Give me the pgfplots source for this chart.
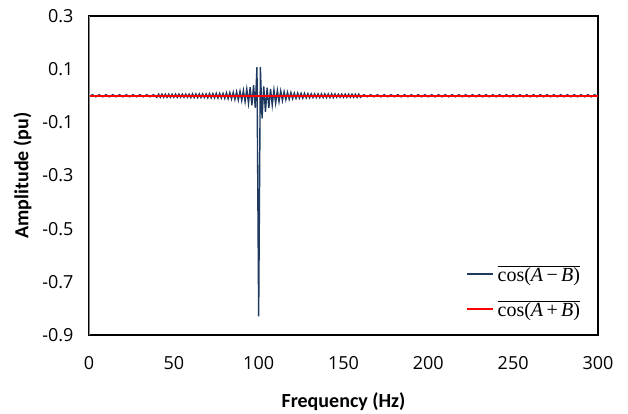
\documentclass[border=0pt]{standalone}
\usepackage{fontspec}
\setmainfont{Carlito}
\newfontfamily\tickfont{Open Sans}
\newfontfamily\legfont{Liberation Serif}
\usepackage{pgfplots}
\pgfplotsset{compat=1.18}

\definecolor{darkblue}{HTML}{1F3A60}
\definecolor{axisgray}{HTML}{868686}

% legend text: overlined cos(A -/+ B) in a Times-like face
\newcommand{\legtxt}[1]{$\overline{\mbox{\legfont cos(\textit{A}\,#1\,\textit{B})}}$}

\begin{document}
\begin{tikzpicture}
\begin{axis}[
    scale only axis,
    width=509pt, height=319pt,
    xmin=0, xmax=300, ymin=-0.9, ymax=0.3,
    xtick={0,50,100,150,200,250,300},
    ytick={-0.9,-0.7,-0.5,-0.3,-0.1,0.1,0.3},
    major tick length=0pt,
    axis line style={black, line width=1.2pt},
    tick label style={font=\fontsize{18}{20}\selectfont\tickfont},
    /pgf/number format/assume math mode=true,
    yticklabel style={/pgf/number format/fixed, /pgf/number format/fixed zerofill, /pgf/number format/precision=1, xshift=-12pt},
    xticklabel style={/pgf/number format/fixed, yshift=-18pt},
    xlabel={Frequency (Hz)},
    ylabel={Amplitude (pu)},
    label style={font=\fontsize{20}{22}\selectfont\bfseries},
    xlabel style={yshift=-16pt},
    ylabel style={yshift=4pt},
    legend style={draw=none, fill=none, at={(0.975,0.04)}, anchor=south east,
        font=\fontsize{20}{22}\selectfont\legfont, row sep=14pt, column sep=2pt},
    legend cell align=left,
    legend image code/.code={\draw[mark repeat=2,mark phase=2,#1] plot coordinates {(0pt,0pt) (13pt,0pt) (26pt,0pt)};},
]

% oscillating response around 100 Hz
\addplot[darkblue, line width=1.4pt] coordinates {
(0,-0.004)(2,0.004)(4,-0.004)(6,0.004)(8,-0.004)(10,0.004)(12,-0.004)(14,0.004)(16,-0.004)(18,0.004)
(20,-0.004)(22,0.004)(24,-0.004)(26,0.004)(28,-0.004)(30,0.004)(32,-0.004)(34,0.004)(36,-0.004)(38,0.004)
(40,-0.006)(41,0.006)(42,-0.006)(43,0.006)(44,-0.006)(45,0.006)(46,-0.006)(47,0.006)(48,-0.006)(49,0.006)
(50,-0.006)(51,0.006)(52,-0.006)(53,0.006)(54,-0.006)(55,0.006)(56,-0.006)(57,0.006)(58,-0.006)(59,0.006)
(60,-0.007)(61,0.007)(62,-0.007)(63,0.007)(64,-0.007)(65,0.007)(66,-0.007)(67,0.007)(68,-0.007)(69,0.007)
(70,-0.008)(71,0.008)(72,-0.008)(73,0.008)(74,-0.008)(75,0.009)(76,-0.009)(77,0.009)(78,-0.009)(79,0.009)
(80,-0.010)(81,0.011)(82,-0.011)(83,0.012)(84,-0.012)(85,0.013)(86,-0.014)(87,0.015)(88,-0.016)(89,0.017)
(90,-0.018)(91,0.020)(92,-0.022)(93,0.025)(94,-0.028)(95,0.032)(96,-0.036)(97,0.040)(98,-0.045)
(99,0.108)(100,-0.830)(101,0.108)
(102,-0.085)(103,0.035)(104,-0.060)(105,0.030)(106,-0.045)(107,0.026)(108,-0.035)(109,0.022)(110,-0.028)
(111,0.020)(112,-0.022)(113,0.018)(114,-0.018)(115,0.015)(116,-0.015)(117,0.013)(118,-0.013)(119,0.012)
(120,-0.011)(121,0.010)(122,-0.010)(123,0.010)(124,-0.009)(125,0.009)(126,-0.009)(127,0.009)(128,-0.008)
(129,0.008)(130,-0.008)(131,0.007)(132,-0.007)(133,0.007)(134,-0.007)(135,0.007)(136,-0.007)(137,0.007)
(138,-0.007)(139,0.007)(140,-0.007)(141,0.007)(142,-0.007)(143,0.007)(144,-0.007)(145,0.007)(146,-0.006)
(147,0.006)(148,-0.006)(149,0.006)(150,-0.006)(151,0.006)(152,-0.006)(153,0.006)(154,-0.006)(155,0.006)
(156,-0.006)(157,0.006)(158,-0.006)(159,0.006)(160,-0.006)
(162,0.004)(164,-0.004)(166,0.004)(168,-0.004)(170,0.004)(172,-0.004)(174,0.004)(176,-0.004)(178,0.004)
(180,-0.004)(182,0.004)(184,-0.004)(186,0.004)(188,-0.004)(190,0.004)(192,-0.004)(194,0.004)(196,-0.004)
(198,0.004)(200,-0.004)(202,0.004)(204,-0.004)(206,0.004)(208,-0.004)(210,0.004)(212,-0.004)(214,0.004)
(216,-0.004)(218,0.004)(220,-0.004)(222,0.004)(224,-0.004)(226,0.004)(228,-0.004)(230,0.004)(232,-0.004)
(234,0.004)(236,-0.004)(238,0.004)(240,-0.004)(242,0.004)(244,-0.004)(246,0.004)(248,-0.004)(250,0.004)
(252,-0.004)(254,0.004)(256,-0.004)(258,0.004)(260,-0.004)(262,0.004)(264,-0.004)(266,0.004)(268,-0.004)
(270,0.004)(272,-0.004)(274,0.004)(276,-0.004)(278,0.004)(280,-0.004)(282,0.004)(284,-0.004)(286,0.004)
(288,-0.004)(290,0.004)(292,-0.004)(294,0.004)(296,-0.004)(298,0.004)(300,-0.004)
};
\addlegendentry{\legtxt{−}}

\addplot[red, line width=1.8pt] coordinates {(0,0) (300,0)};
\addlegendentry{\legtxt{+}}

% vertical axis line drawn in grey as in the original
\draw[axisgray, line width=1.2pt] (rel axis cs:0,0) -- (rel axis cs:0,1);
\end{axis}
\path[use as bounding box] ([xshift=-89pt,yshift=-76pt]current axis.south west)
    rectangle ([xshift=30pt,yshift=16pt]current axis.north east);
\end{tikzpicture}
\end{document}
